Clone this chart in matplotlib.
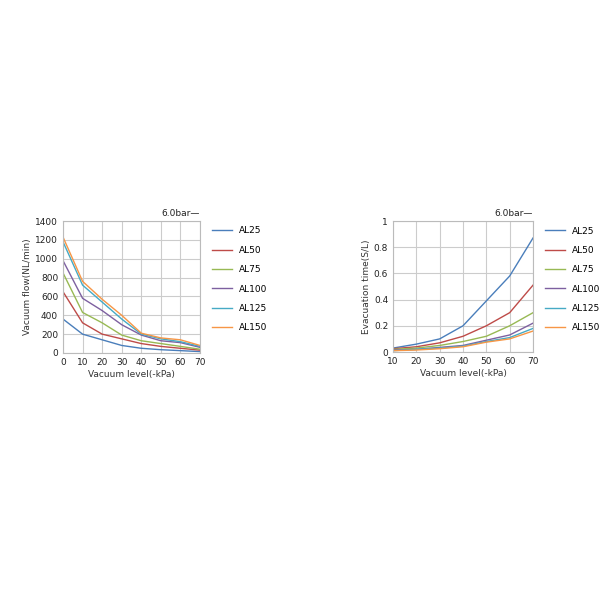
import matplotlib.pyplot as plt

# data
names = ['AL25', 'AL50', 'AL75', 'AL100', 'AL125', 'AL150']
colors = ['#4a7ebb', '#be4b48', '#98b954', '#7d60a0', '#46aac5', '#f79646']

flow_x = [0, 10, 20, 30, 40, 50, 60, 70]
flow = [
    [360, 200, 140, 80, 50, 35, 25, 15],
    [650, 320, 200, 150, 100, 70, 50, 30],
    [850, 430, 320, 190, 130, 100, 70, 40],
    [980, 580, 450, 300, 190, 130, 110, 60],
    [1180, 720, 540, 360, 200, 150, 120, 70],
    [1230, 760, 570, 400, 210, 160, 140, 80],
]

evac_x = [10, 20, 30, 40, 50, 60, 70]
evac = [
    [0.03, 0.06, 0.10, 0.20, 0.39, 0.58, 0.87],
    [0.025, 0.04, 0.07, 0.12, 0.20, 0.30, 0.51],
    [0.02, 0.03, 0.05, 0.08, 0.12, 0.20, 0.30],
    [0.015, 0.02, 0.035, 0.05, 0.09, 0.13, 0.22],
    [0.01, 0.02, 0.03, 0.045, 0.08, 0.11, 0.18],
    [0.01, 0.015, 0.025, 0.04, 0.075, 0.10, 0.16],
]

fig = plt.figure(figsize=(6, 6), dpi=100)
ax1 = fig.add_axes([63/600, 1-353/600, 137/600, 132/600])
ax2 = fig.add_axes([393/600, 1-352/600, 140/600, 131/600])

def style(ax, xs, ys, xlabel, ylabel, yticks, yl):
    for vals, n, c in zip(ys, names, colors):
        ax.plot(xs, vals, color=c, lw=1, label=n)
    ax.set_xlim(xs[0], xs[-1])
    ax.set_xticks(xs)
    ax.set_yticks(yticks)
    ax.set_yticklabels(yl)
    ax.set_ylim(yticks[0], yticks[-1])
    ax.grid(True, color='#cccccc', lw=0.8)
    for s in ax.spines.values():
        s.set_color('#bbbbbb')
    ax.tick_params(length=0, labelsize=6.5, colors='#222222')
    ax.set_xlabel(xlabel, fontsize=6.5, color='#333333', labelpad=2)
    ax.set_ylabel(ylabel, fontsize=6.5, color='#333333', labelpad=2)
    ax.text(1.0, 1.02, '6.0bar—', transform=ax.transAxes, ha='right',
            va='bottom', fontsize=6.5, color='#222222')
    ax.legend(loc='upper left', bbox_to_anchor=(1.03, 1.02), frameon=False,
              fontsize=6.5, handlelength=2.2, labelspacing=1.15)

style(ax1, flow_x, flow, 'Vacuum level(-kPa)', 'Vacuum flow(NL/min)',
      list(range(0, 1401, 200)), [str(v) for v in range(0, 1401, 200)])
style(ax2, evac_x, evac, 'Vacuum level(-kPa)', 'Evacuation time(S/L)',
      [0, 0.2, 0.4, 0.6, 0.8, 1.0], ['0', '0.2', '0.4', '0.6', '0.8', '1'])

fig.savefig('out.png')
